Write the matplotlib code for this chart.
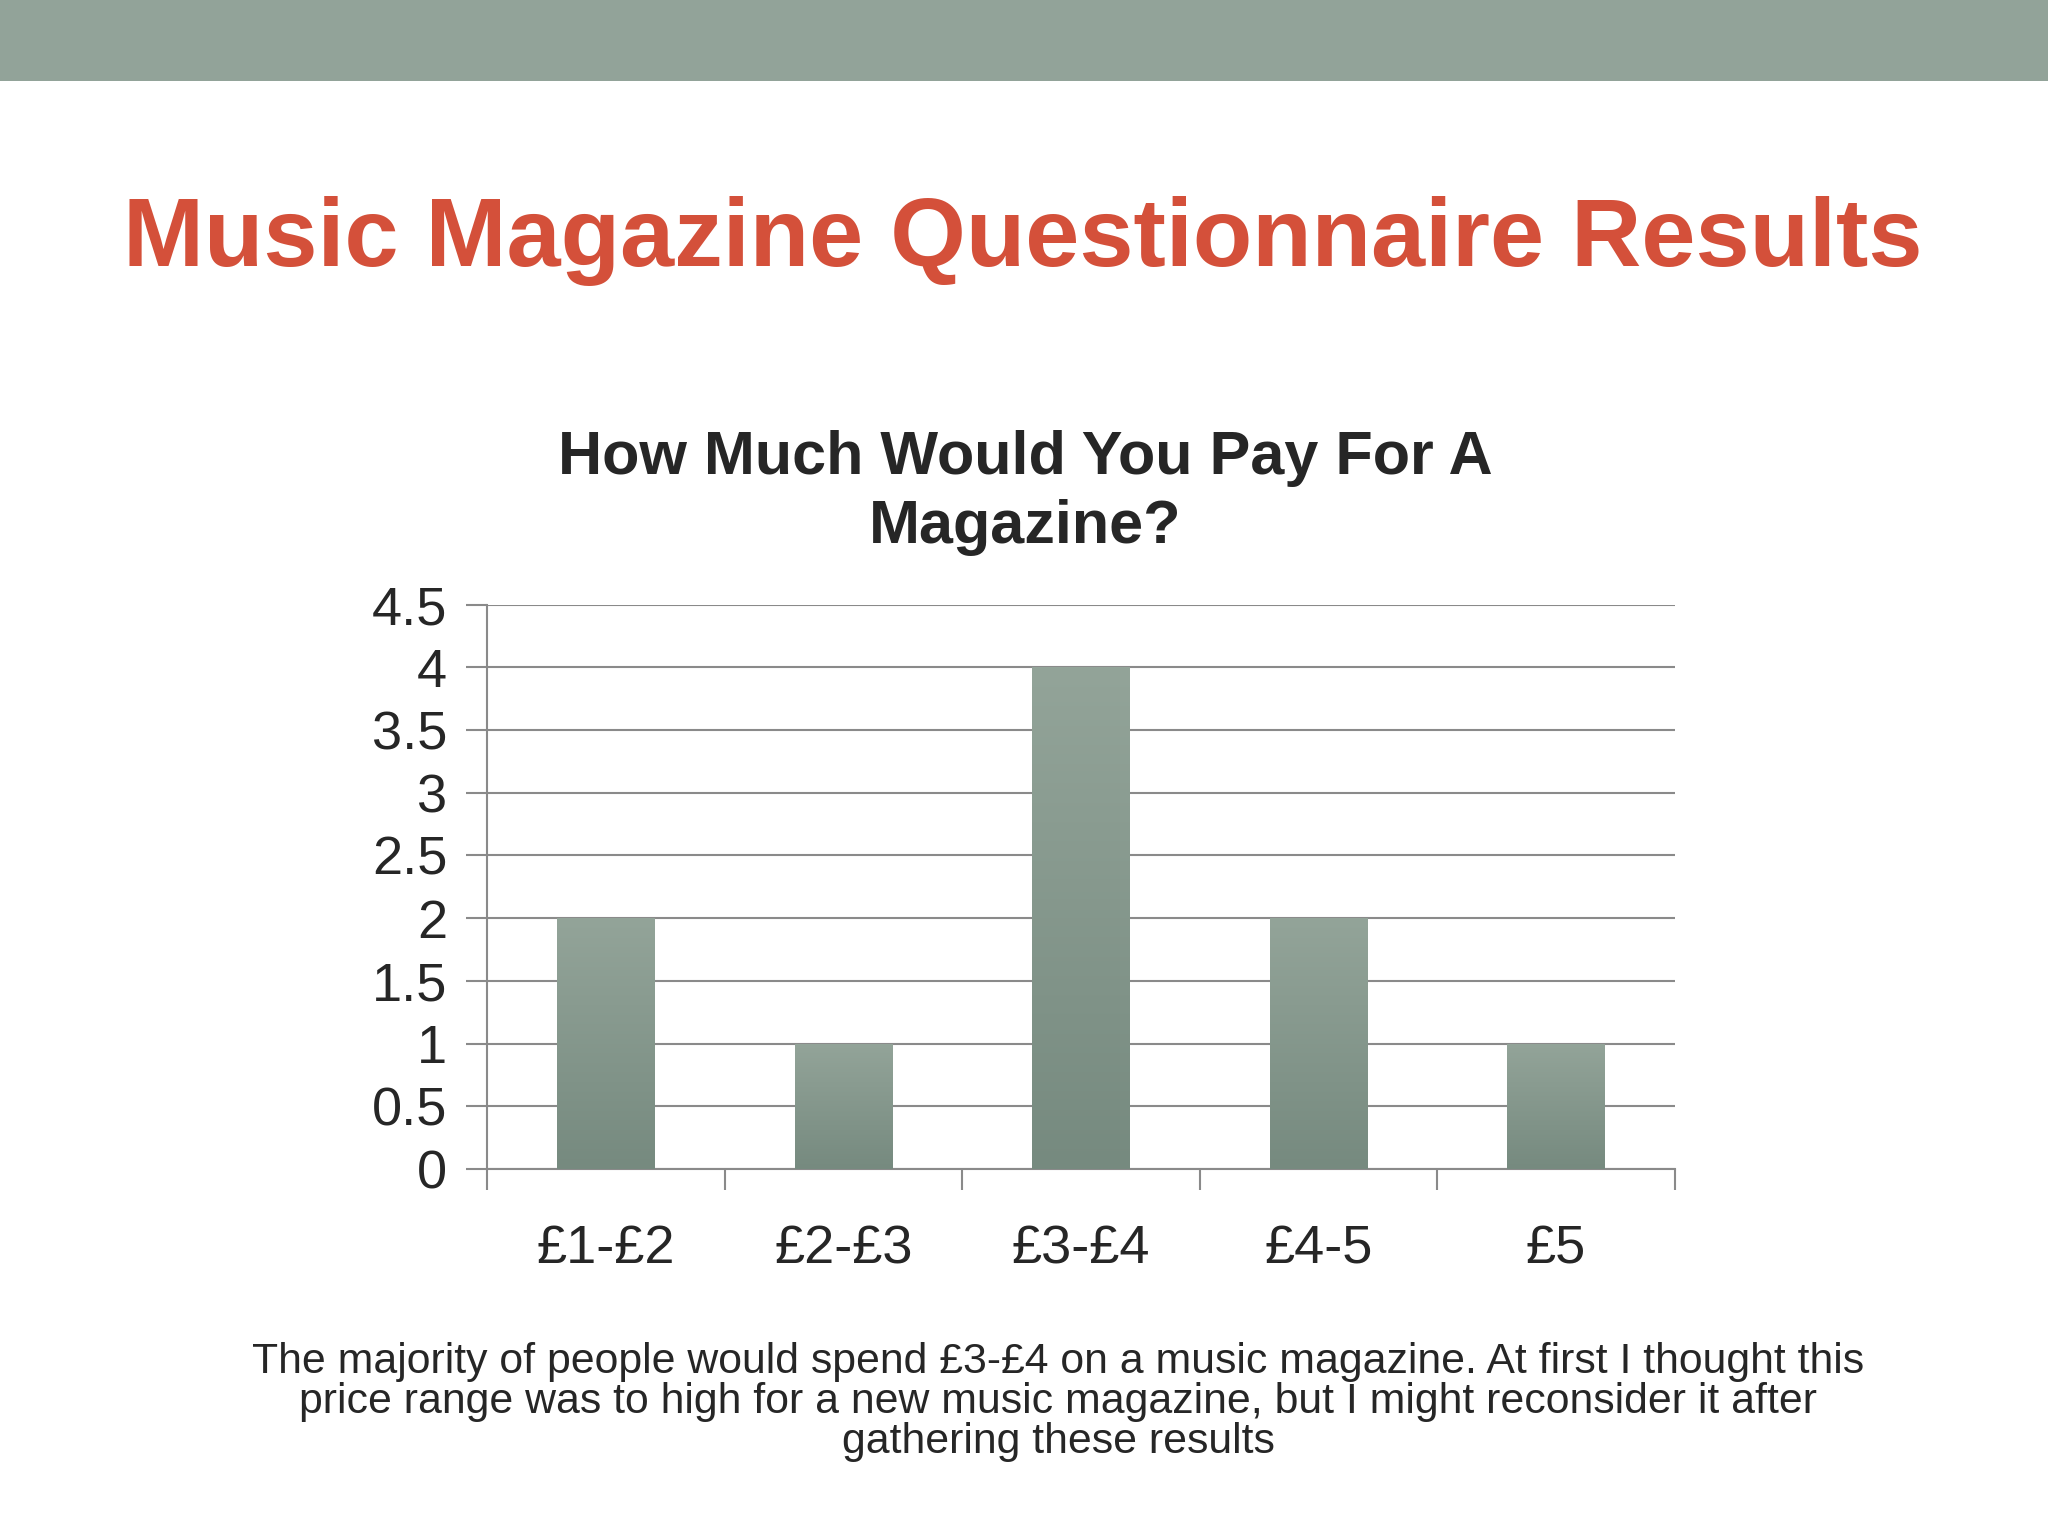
import matplotlib
matplotlib.use('Agg')
import matplotlib.pyplot as plt
import numpy as np
from matplotlib.patches import Rectangle

plt.rcParams['font.family'] = ['Liberation Sans', 'DejaVu Sans']

# data
categories = ['£1-£2', '£2-£3', '£3-£4', '£4-5', '£5']
counts = [2, 1, 4, 2, 1]
yticks = [0, 0.5, 1, 1.5, 2, 2.5, 3, 3.5, 4, 4.5]
ytick_labels = ['0', '0.5', '1', '1.5', '2', '2.5', '3', '3.5', '4', '4.5']

slide_title = 'Music Magazine Questionnaire Results'
chart_title = 'How Much Would You Pay For A\nMagazine?'
caption = ('The majority of people would spend £3-£4 on a music magazine. At first I thought this\n'
           'price range was to high for a new music magazine, but I might reconsider it after\n'
           'gathering these results')

grid_col = '#8a8a8a'
text_col = '#262626'

fig = plt.figure(figsize=(20.48, 15.36), dpi=100)
fig.patch.set_facecolor('white')

# header band
fig.add_artist(Rectangle((0, 1 - 0.0527), 1, 0.0527, transform=fig.transFigure,
                         facecolor='#92a399', edgecolor='none'))

fig.text(0.4995, 0.843, slide_title, ha='center', va='center', fontsize=70,
         fontweight='bold', color='#d4503a')
fig.text(0.5006, 0.679, chart_title, ha='center', va='center', fontsize=44,
         fontweight='bold', color=text_col, linespacing=1.26)
fig.text(0.5166, 0.0875, caption, ha='center', va='center', fontsize=30.75,
         color=text_col, linespacing=1.0)

ax = fig.add_axes([0.238, 0.239, 0.5797, 0.3673])
x = np.arange(len(categories))
bars = ax.bar(x, counts, width=0.41, color='#86988d', zorder=3)

# soft vertical gradient on bars
grad = np.linspace(0, 1, 256).reshape(-1, 1)
cmap = matplotlib.colors.LinearSegmentedColormap.from_list('g', ['#768a7f', '#93a499'])
for b in bars:
    im = ax.imshow(grad, cmap=cmap, aspect='auto', origin='lower', zorder=4,
                   extent=(b.get_x(), b.get_x() + b.get_width(), 0, b.get_height()))
    im.set_clip_path(b)

ax.set_xlim(-0.5, len(categories) - 0.5)
ax.set_ylim(0, 4.5)
ax.set_yticks(yticks)
ax.set_yticklabels(ytick_labels)
ax.yaxis.grid(True, color=grid_col, linewidth=1.5, zorder=0)
ax.set_axisbelow(True)

ax.set_xticks(x)
ax.set_xticklabels(categories)
ax.set_xticks(np.arange(len(categories) + 1) - 0.5, minor=True)
ax.tick_params(axis='x', which='major', length=0, pad=40, labelsize=39, labelcolor=text_col)
ax.tick_params(axis='x', which='minor', length=15, width=1.5, color=grid_col, direction='out')
ax.tick_params(axis='y', length=15, width=1.5, color=grid_col, pad=14, labelsize=39,
               labelcolor=text_col)

for s in ['top', 'right']:
    ax.spines[s].set_visible(False)
for s in ['left', 'bottom']:
    ax.spines[s].set_color(grid_col)
    ax.spines[s].set_linewidth(1.5)

fig.savefig('out.png', dpi=100, facecolor='white')
